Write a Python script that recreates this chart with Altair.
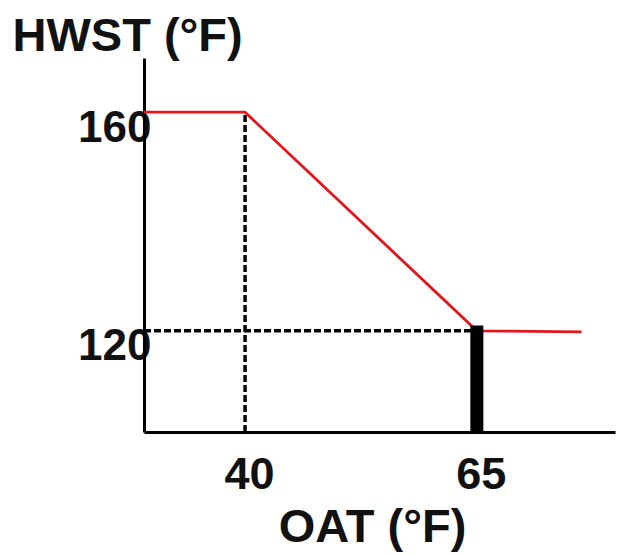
import altair as alt
import pandas as pd

# Reset schedule
oat = [29.1, 40, 65, 76.3]
hwst = [160, 160, 120, 119.8]

x_ticks = [40, 65]
y_ticks = [120, 160]
x_domain = [29.1, 79.9]
y_domain = [101.5, 169.9]

# guide lines
vdash_x = [40]
vdash_top = [160]
hdash_y = [120]
hdash_right = [65]
bar_x = [65]
bar_top = [121]

line_df = pd.DataFrame({"OAT": oat, "HWST": hwst})
vdash_df = pd.DataFrame({"OAT": vdash_x, "HWST": [y_domain[0]], "HWST2": vdash_top})
hdash_df = pd.DataFrame({"OAT": [x_domain[0]], "OAT2": hdash_right, "HWST": hdash_y})
bar_df = pd.DataFrame({"OAT": bar_x, "HWST": [y_domain[0]], "HWST2": bar_top})

FONT = "Liberation Sans"
INK = "#111111"

x_axis = alt.Axis(
    values=x_ticks, title="OAT (°F)", ticks=False, tickSize=0, grid=False,
    domainColor="black", domainWidth=3,
    labelFont=FONT, labelFontSize=45, labelFontWeight="bold", labelColor=INK,
    labelPadding=20, labelOffset=4,
    titleFont=FONT, titleFontSize=47, titleFontWeight="bold", titleColor=INK,
    titlePadding=7, titleX=228,
)
y_axis = alt.Axis(
    values=y_ticks, title="HWST (°F)", ticks=False, tickSize=0, grid=False,
    domainColor="black", domainWidth=3,
    labelFont=FONT, labelFontSize=44, labelFontWeight="bold", labelColor=INK,
    labelPadding=-7, labelOffset=16,
    titleFont=FONT, titleFontSize=47, titleFontWeight="bold", titleColor=INK,
    titleAngle=0, titleAlign="left", titleBaseline="alphabetic",
    titleX=-132, titleY=-8,
)
xs = alt.Scale(domain=x_domain, nice=False, zero=False)
ys = alt.Scale(domain=y_domain, nice=False, zero=False)

vdash = alt.Chart(vdash_df).mark_rule(
    color="black", strokeWidth=3.5, strokeDash=[7, 3]
).encode(
    x=alt.X("OAT:Q", scale=xs, axis=x_axis),
    y=alt.Y("HWST:Q", scale=ys, axis=y_axis),
    y2="HWST2:Q",
)
hdash = alt.Chart(hdash_df).mark_rule(
    color="black", strokeWidth=3.5, strokeDash=[7, 3]
).encode(
    x=alt.X("OAT:Q", scale=xs, axis=x_axis),
    x2="OAT2:Q",
    y=alt.Y("HWST:Q", scale=ys, axis=y_axis),
)
line = alt.Chart(line_df).mark_line(
    color="#e3161c", strokeWidth=2.8
).encode(
    x=alt.X("OAT:Q", scale=xs, axis=x_axis),
    y=alt.Y("HWST:Q", scale=ys, axis=y_axis),
    order=alt.Order("OAT:Q"),
)
bar = alt.Chart(bar_df).mark_rule(
    color="black", strokeWidth=13, strokeCap="butt"
).encode(
    x=alt.X("OAT:Q", scale=xs, axis=x_axis),
    y=alt.Y("HWST:Q", scale=ys, axis=y_axis),
    y2="HWST2:Q",
)

chart = alt.layer(vdash, hdash, line, bar).properties(
    width=471,
    height=374,
    autosize=alt.AutoSizeParams(type="none"),
    padding={"left": 136, "top": 50, "right": 1, "bottom": 124},
    background="white",
).configure_view(stroke=None)

chart.save("out.html", embed_options={"renderer": "svg", "actions": False})
